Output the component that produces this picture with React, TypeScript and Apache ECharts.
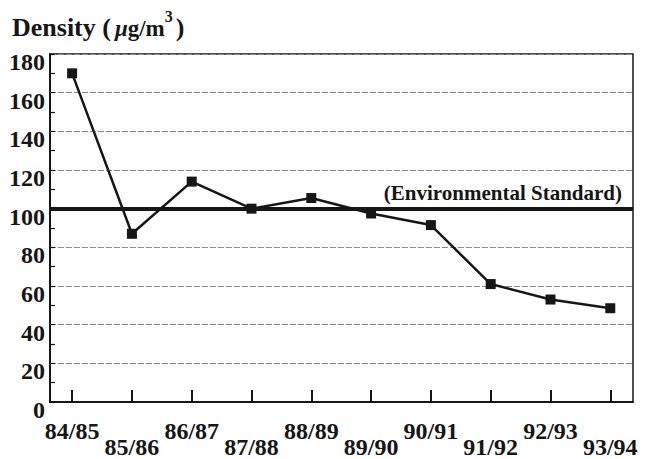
import React, { useEffect, useRef } from "react";
import * as echarts from "echarts";

const categories = ["84/85", "85/86", "86/87", "87/88", "88/89", "89/90", "90/91", "91/92", "92/93", "93/94"];
const densityValues = [170, 87, 114, 100, 105.5, 97.5, 91.5, 61, 53, 48.5];
const standardValue = 100;
const yTicks = [0, 20, 40, 60, 80, 100, 120, 140, 160, 180];

const FONT = "'Liberation Serif', 'Times New Roman', serif";
const INK = "#161616";

export default function App() {
  const ref = useRef<HTMLDivElement>(null);
  useEffect(() => {
    if (!ref.current) return;
    const chart = echarts.init(ref.current, null, { renderer: "svg" });
    const idx = categories.map((_, i) => i);
    const evenIdx = idx.filter((i) => i % 2 === 0);
    const oddIdx = idx.filter((i) => i % 2 === 1);
    const labelStyle = { fontFamily: FONT, fontWeight: "bold", fontSize: 24, color: INK, verticalAlign: "top", hideOverlap: false };
    chart.setOption({
      animation: false,
      backgroundColor: "#ffffff",
      graphic: [
        {
          type: "text",
          x: 12,
          y: 8,
          style: {
            text: "{a|Density (}{m|μ}{g|g/m}{s|3}{a|)}",
            rich: {
              a: { fontFamily: FONT, fontWeight: "bold", fontSize: 26, fill: INK, verticalAlign: "bottom", lineHeight: 32 },
              m: { fontFamily: FONT, fontWeight: "bold", fontStyle: "italic", fontSize: 23, fill: INK, verticalAlign: "bottom", lineHeight: 32, padding: [0, 0, 0, 4] },
              g: { fontFamily: FONT, fontWeight: "bold", fontSize: 23, fill: INK, verticalAlign: "bottom", lineHeight: 32 },
              s: { fontFamily: FONT, fontWeight: "bold", fontSize: 16, fill: INK, verticalAlign: "top", lineHeight: 32, padding: [0, 3, 0, 0] },
            },
          },
        },
      ],
      grid: { left: 50, right: 26, top: 54, bottom: 55, show: true, borderColor: INK, borderWidth: 1.5, backgroundColor: "transparent" },
      xAxis: [
        {
          type: "value",
          min: -0.37,
          max: 9.38,
          position: "bottom",
          splitLine: { show: false },
          axisLine: { show: true, onZero: false, lineStyle: { color: INK, width: 2 } },
          axisTick: { show: true, inside: true, length: 12, customValues: idx, lineStyle: { color: INK, width: 2 } },
          axisLabel: {
            ...labelStyle,
            customValues: evenIdx,
            margin: 17,
            formatter: (v: number) => categories[Math.round(v)] ?? "",
          },
        },
        {
          type: "value",
          min: -0.37,
          max: 9.38,
          position: "bottom",
          splitLine: { show: false },
          axisLine: { show: false, onZero: false },
          axisTick: { show: false },
          axisLabel: {
            ...labelStyle,
            customValues: oddIdx,
            margin: 33,
            formatter: (v: number) => categories[Math.round(v)] ?? "",
          },
        },
      ],
      yAxis: {
        type: "value",
        min: 0,
        max: 180,
        interval: 20,
        axisLine: { show: true, onZero: false, lineStyle: { color: INK, width: 2 } },
        axisTick: { show: true, inside: true, length: 5, lineStyle: { color: INK, width: 1.2 } },
        minorTick: { show: true, splitNumber: 2, length: 5, lineStyle: { color: INK, width: 1.2 } },
        splitLine: { show: true, lineStyle: { color: "#8a8a8a", width: 1, type: [6, 2] } },
        axisLabel: {
          margin: 5,
          showMinLabel: true,
          showMaxLabel: true,
          hideOverlap: false,
          fontFamily: FONT,
          fontWeight: "bold",
          fontSize: 24,
          color: INK,
          verticalAlign: "top",
          lineHeight: 16,
          formatter: (v: number) => (yTicks.includes(v) ? String(v) : ""),
        },
      },
      series: [
        {
          type: "line",
          xAxisIndex: 0,
          data: densityValues.map((v, i) => [i, v]),
          symbol: "rect",
          symbolSize: 10,
          lineStyle: { color: INK, width: 2.5 },
          itemStyle: { color: INK },
          z: 3,
          markLine: {
            silent: true,
            symbol: "none",
            lineStyle: { color: INK, width: 4, type: "solid" },
            data: [{ yAxis: standardValue }],
            label: {
              show: true,
              position: "insideEndTop",
              distance: [11, 5],
              formatter: "(Environmental Standard)",
              fontFamily: FONT,
              fontWeight: "bold",
              fontSize: 21,
              color: INK,
            },
          },
        },
      ],
    });
    return () => chart.dispose();
  }, []);
  return <div ref={ref} style={{ position: "fixed", left: 0, top: 0, width: 659, height: 459 }} />;
}
